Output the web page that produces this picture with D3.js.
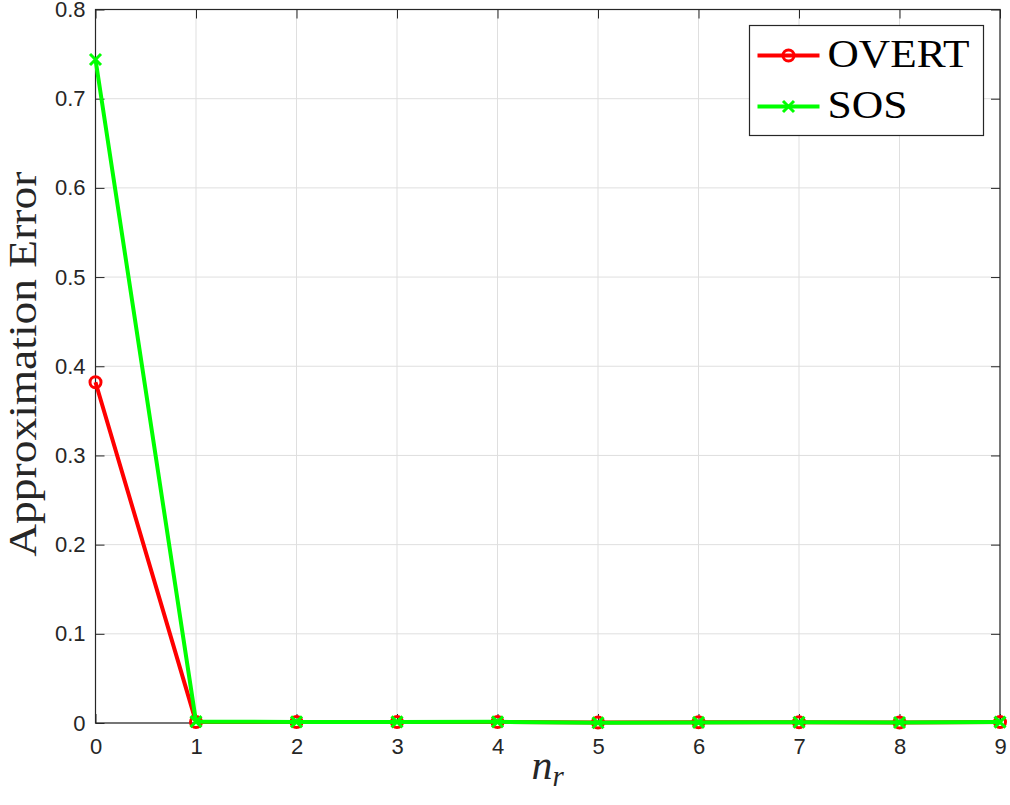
<!DOCTYPE html>
<html>
<head>
<meta charset="utf-8">
<script src="https://cdn.jsdelivr.net/npm/d3@7"></script>
<style>
  body { margin: 0; background: #fff; }
</style>
</head>
<body>
<div id="chart"></div>
<script>
var nr = [0, 1, 2, 3, 4, 5, 6, 7, 8, 9];
var overtErr = [0.382, 0.0012, 0.0011, 0.0012, 0.0011, 0.0005, 0.0008, 0.0009, 0.0006, 0.0010];
var sosErr = [0.744, 0.0015, 0.0012, 0.0012, 0.0013, 0.0003, 0.0007, 0.0008, 0.0005, 0.0010];
var yTicks = [0, 0.1, 0.2, 0.3, 0.4, 0.5, 0.6, 0.7, 0.8];

var width = 1010, height = 805;
var margin = {top: 9.5, right: 10, bottom: 82, left: 95.5};
var w = width - margin.left - margin.right,
    h = height - margin.top - margin.bottom;

var svg = d3.select("#chart").append("svg")
    .attr("width", width)
    .attr("height", height)
  .append("g")
    .attr("transform", "translate(" + margin.left + "," + margin.top + ")");

var x = d3.scaleLinear().domain([0, 9]).range([0, w]);
var y = d3.scaleLinear().domain([0, 0.8]).range([h, 0]);

// grid
svg.append("g").selectAll("line")
    .data(nr)
  .enter().append("line")
    .attr("x1", function(d) { return x(d); })
    .attr("x2", function(d) { return x(d); })
    .attr("y1", 0).attr("y2", h)
    .attr("stroke", "#dfdfdf").attr("stroke-width", 1);
svg.append("g").selectAll("line")
    .data(yTicks)
  .enter().append("line")
    .attr("y1", function(d) { return y(d); })
    .attr("y2", function(d) { return y(d); })
    .attr("x1", 0).attr("x2", w)
    .attr("stroke", "#dfdfdf").attr("stroke-width", 1);

// axes (ticks inward, box on all sides)
var xAxis = d3.axisBottom(x).tickValues(nr).tickSizeInner(-9).tickSizeOuter(0).tickPadding(15)
    .tickFormat(d3.format("d"));
var yAxis = d3.axisLeft(y).tickValues(yTicks).tickSizeInner(-9).tickSizeOuter(0).tickPadding(10)
    .tickFormat(function(d) { return d === 0 ? "0" : d3.format(".1f")(d); });

svg.append("g").attr("transform", "translate(0," + h + ")").call(xAxis)
    .attr("font-size", 22).attr("font-family", "'Liberation Sans', Arial, sans-serif");
svg.append("g").call(yAxis)
    .attr("font-size", 22).attr("font-family", "'Liberation Sans', Arial, sans-serif");
svg.append("g").call(d3.axisTop(x).tickValues(nr).tickSizeInner(-9).tickSizeOuter(0).tickFormat(""));
svg.append("g").attr("transform", "translate(" + w + ",0)")
    .call(d3.axisRight(y).tickValues(yTicks).tickSizeInner(-9).tickSizeOuter(0).tickFormat(""));
svg.selectAll(".domain").remove();
svg.selectAll(".tick line").attr("stroke", "#262626");
svg.selectAll(".tick text").attr("fill", "#262626");

svg.append("rect")
    .attr("width", w).attr("height", h)
    .attr("fill", "none").attr("stroke", "#262626").attr("stroke-width", 1.2);

// lines
var line = d3.line()
    .x(function(d, i) { return x(nr[i]); })
    .y(function(d) { return y(d); });

svg.append("path").datum(overtErr)
    .attr("d", line).attr("fill", "none")
    .attr("stroke", "#ff0000").attr("stroke-width", 4);
svg.selectAll(".circ")
    .data(overtErr)
  .enter().append("circle")
    .attr("class", "circ")
    .attr("cx", function(d, i) { return x(nr[i]); })
    .attr("cy", function(d) { return y(d); })
    .attr("r", 5.5)
    .attr("fill", "none").attr("stroke", "#ff0000").attr("stroke-width", 3);

svg.append("path").datum(sosErr)
    .attr("d", line).attr("fill", "none")
    .attr("stroke", "#00ff00").attr("stroke-width", 4);

function cross(g, cx, cy) {
  var s = 5.5;
  g.append("path")
      .attr("d", "M" + (cx - s) + "," + (cy - s) + "L" + (cx + s) + "," + (cy + s) +
                 "M" + (cx - s) + "," + (cy + s) + "L" + (cx + s) + "," + (cy - s))
      .attr("stroke", "#00ff00").attr("stroke-width", 3).attr("fill", "none");
}
var crossG = svg.append("g");
sosErr.forEach(function(d, i) { cross(crossG, x(nr[i]), y(d)); });

// axis labels
d3.select("svg").append("text")
    .attr("transform", "translate(36," + (margin.top + h / 2 - 2) + ") rotate(-90)")
    .attr("text-anchor", "middle")
    .attr("textLength", 385).attr("lengthAdjust", "spacingAndGlyphs")
    .style("font-family", "'Liberation Serif', 'Times New Roman', serif")
    .style("font-size", "40px").attr("fill", "#262626")
    .text("Approximation Error");

var xl = d3.select("svg").append("text")
    .attr("x", margin.left + w / 2).attr("y", 779)
    .attr("text-anchor", "middle")
    .style("font-family", "'Liberation Serif', 'Times New Roman', serif")
    .style("font-style", "italic").attr("fill", "#262626");
xl.append("tspan").style("font-size", "42px").text("n");
xl.append("tspan").style("font-size", "29px").attr("dy", 7).text("r");

// legend
var legend = d3.select("svg").append("g").attr("transform", "translate(749.5,25.5)");
legend.append("rect")
    .attr("width", 234).attr("height", 110)
    .attr("fill", "#fff").attr("stroke", "#262626").attr("stroke-width", 1.2);
var items = [{name: "OVERT", color: "#ff0000", y: 30, len: 142}, {name: "SOS", color: "#00ff00", y: 81, len: 80}];
items.forEach(function(it) {
  legend.append("line")
      .attr("x1", 8).attr("x2", 70).attr("y1", it.y).attr("y2", it.y)
      .attr("stroke", it.color).attr("stroke-width", 4);
  if (it.name === "OVERT") {
    legend.append("circle").attr("cx", 39).attr("cy", it.y).attr("r", 5.5)
        .attr("fill", "none").attr("stroke", it.color).attr("stroke-width", 3);
  } else {
    cross(legend, 39, it.y);
  }
  legend.append("text")
      .attr("x", 78).attr("y", it.y + 11)
      .attr("textLength", it.len).attr("lengthAdjust", "spacingAndGlyphs")
      .style("font-family", "'Liberation Serif', 'Times New Roman', serif")
      .style("font-size", "41px").attr("fill", "#000")
      .text(it.name);
});
</script>
</body>
</html>
